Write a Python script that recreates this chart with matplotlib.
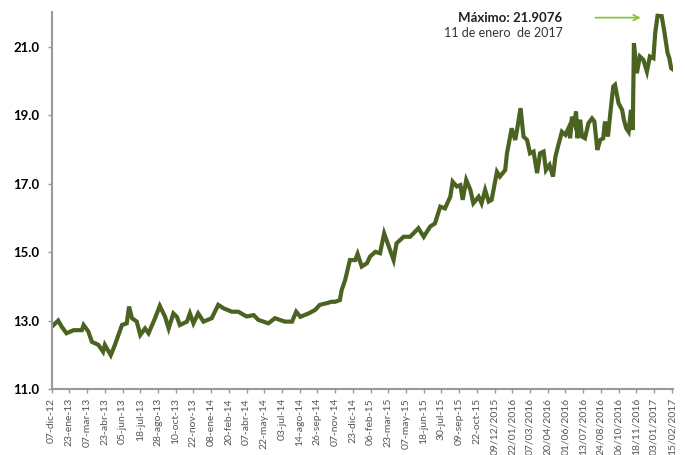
import numpy as np
import matplotlib.pyplot as plt

# dia habil (desde 07-dic-12) y tipo de cambio
dia = [0, 11, 17, 25, 37, 51, 54, 62, 68, 79, 87, 90, 100, 107, 119, 127, 131, 136, 144, 150,
       158, 164, 175, 183, 192, 198, 206, 212, 217, 229, 234, 240, 248, 257, 271, 282, 291, 305, 316,
       330, 342, 350, 367, 378, 395, 407, 414, 421, 435, 446, 454, 466, 474, 480, 488, 491, 497, 505,
       514, 518, 525, 534, 539, 548, 556, 563, 570, 579, 584, 596, 607, 621, 630, 641, 649, 658,
       666, 675, 679, 686, 692, 696, 702, 709, 714, 723, 728, 734, 740, 745, 754, 759, 768, 771,
       779, 785, 788, 794, 799, 805, 810, 816, 822, 827, 833, 837, 843, 849, 853, 858, 864, 870,
       875, 878, 881, 885, 888, 890, 895, 898, 903, 909, 915, 919, 924, 929, 934, 937, 942, 946,
       951, 954, 960, 966, 969, 973, 977, 981, 984, 986, 991, 996, 1002, 1008, 1013, 1019, 1022,
       1026, 1033, 1037, 1043, 1046, 1049, 1053]
tipo = [12.82, 13.00, 12.82, 12.63, 12.72, 12.72, 12.87, 12.68, 12.38, 12.29, 12.09, 12.29, 11.99,
        12.29, 12.87, 12.92, 13.41, 13.07, 12.97, 12.58, 12.77, 12.63, 13.07, 13.43, 13.11, 12.77,
        13.21, 13.11, 12.87, 12.97, 13.21, 12.92, 13.21, 12.97, 13.07, 13.46, 13.36, 13.26, 13.26,
        13.12, 13.16, 13.02, 12.92, 13.07, 12.97, 12.97, 13.26, 13.11, 13.21, 13.31, 13.46, 13.51,
        13.55, 13.55, 13.60, 13.89, 14.19, 14.77, 14.77, 14.95, 14.58, 14.68, 14.87, 15.01, 14.97,
        15.55, 15.21, 14.77, 15.26, 15.45, 15.45, 15.70, 15.45, 15.75, 15.84, 16.33, 16.28, 16.62,
        17.06, 16.92, 16.96, 16.53, 17.11, 16.82, 16.43, 16.62, 16.43, 16.82, 16.48, 16.53, 17.35,
        17.21, 17.40, 17.89, 18.62, 18.28, 18.57, 19.21, 18.38, 18.28, 17.89, 17.94, 17.31, 17.89,
        17.94, 17.40, 17.55, 17.21, 17.79, 18.13, 18.52, 18.43, 18.62, 18.33, 18.96, 18.77, 19.11,
        18.33, 18.87, 18.38, 18.33, 18.77, 18.91, 18.82, 17.99, 18.28, 18.33, 18.82, 18.38, 19.06,
        19.84, 19.89, 19.35, 19.16, 18.87, 18.62, 18.52, 19.16, 18.57, 21.11, 20.23, 20.72, 20.62,
        20.28, 20.72, 20.67, 21.40, 21.91, 21.90, 21.50, 20.82, 20.67, 20.38, 20.33]

etiquetas = ["07-dic-12", "23-ene-13", "07-mar-13", "23-abr-13", "05-jun-13", "18-jul-13",
             "28-ago-13", "10-oct-13", "22-nov-13", "08-ene-14", "20-feb-14", "07-abr-14",
             "22-may-14", "03-jul-14", "14-ago-14", "26-sep-14", "07-nov-14", "23-dic-14",
             "06-feb-15", "23-mar-15", "07-may-15", "18-jun-15", "30-jul-15", "09-sep-15",
             "22-oct-15", "09/12/2015", "22/01/2016", "07/03/2016", "20/04/2016", "01/06/2016",
             "13/07/2016", "24/08/2016", "06/10/2016", "18/11/2016", "03/01/2017", "15/02/2017"]

plt.rcParams['font.family'] = ['Lato', 'DejaVu Sans']

fig = plt.figure(figsize=(6.85, 4.55), dpi=100)
ax = fig.add_axes([0.0755, 0.145, 0.9077, 0.8286])

ax.plot(dia, tipo, color="#4b6320", lw=3, solid_joinstyle="miter")

ax.set_xlim(0, 1053)
ax.set_ylim(11, 22.02)
ax.set_yticks([11, 13, 15, 17, 19, 21])
ax.set_yticklabels(["11.0", "13.0", "15.0", "17.0", "19.0", "21.0"], fontsize=9.5, fontweight="bold")
ax.set_xticks(np.arange(len(etiquetas)) * 30)
ax.set_xticklabels(etiquetas, rotation=90, fontsize=7.5, color="#555555")

for s in ["top", "right"]:
    ax.spines[s].set_visible(False)
for s in ["left", "bottom"]:
    ax.spines[s].set_color("#999999")
    ax.spines[s].set_linewidth(1.5)
ax.tick_params(axis="both", color="#999999", length=3, width=1)
ax.tick_params(axis="y", pad=6)

ax.text(0.8215, 0.985, "Máximo: 21.9076", transform=ax.transAxes, ha="right", va="center",
        fontsize=9.5, fontweight="bold", color="#222222")
ax.text(0.8215, 0.945, "11 de enero  de 2017", transform=ax.transAxes, ha="right", va="center",
        fontsize=9, color="#333333")
ax.annotate("", xy=(0.952, 0.985), xytext=(0.87, 0.985), xycoords="axes fraction",
            arrowprops=dict(arrowstyle="->", color="#8cc63f", lw=1.3))

fig.savefig("out.png", dpi=100)
